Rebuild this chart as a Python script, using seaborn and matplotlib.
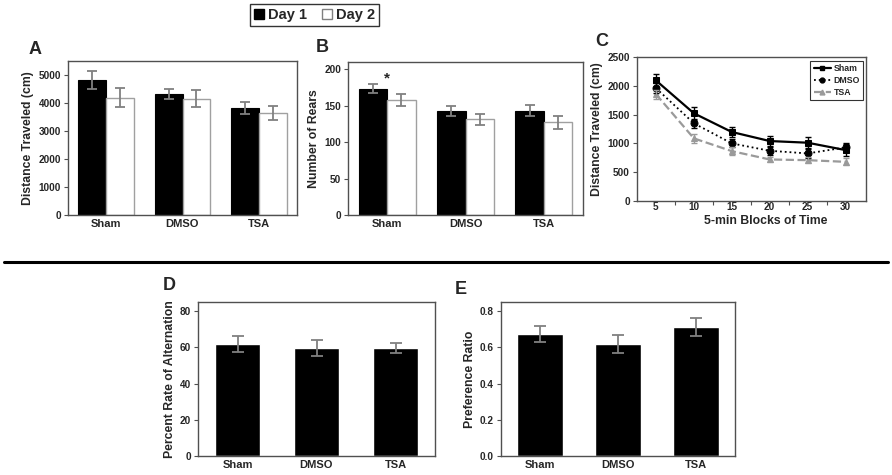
import numpy as np
import pandas as pd
import matplotlib
matplotlib.use("Agg")
import matplotlib.pyplot as plt
import seaborn as sns
from matplotlib.patches import Patch
from matplotlib.lines import Line2D
from matplotlib.ticker import FixedLocator, FormatStrFormatter

sns.set_theme(style="white")
plt.rcParams['font.family'] = ['Liberation Sans', 'DejaVu Sans']
plt.rcParams['font.weight'] = 'bold'
plt.rcParams['axes.labelweight'] = 'bold'

# ---------------- data ----------------
groups = ["Sham", "DMSO", "TSA"]
days = ["Day 1", "Day 2"]

dist_day1 = [4820, 4330, 3820]
dist_day1_err = [310, 170, 230]
dist_day2 = [4190, 4160, 3630]
dist_day2_err = [350, 300, 250]

rears_day1 = [173.5, 142.5, 143.4]
rears_day1_err = [6.5, 6.5, 7.0]
rears_day2 = [158.0, 131.5, 127.5]
rears_day2_err = [8.0, 7.5, 9.0]

time_blocks = [5, 10, 15, 20, 25, 30]
sham_time = [2093, 1523, 1198, 1041, 1012, 884]
sham_time_err = [115, 115, 95, 85, 95, 110]
dmso_time = [1959, 1349, 1000, 872, 826, 930]
dmso_time_err = [90, 80, 70, 70, 80, 80]
tsa_time = [1855, 1087, 866, 721, 709, 680]
tsa_time_err = [80, 75, 70, 50, 50, 60]

alternation = [61.9, 59.5, 59.6]
alternation_err = [4.4, 4.4, 3.0]

pref_ratio = [0.671, 0.618, 0.714]
pref_ratio_err = [0.044, 0.048, 0.050]

# ---------------- layout helpers ----------------
W, H = 892, 475
fig = plt.figure(figsize=(W / 100, H / 100), dpi=100)
fig.patch.set_facecolor("white")

def add_ax(x0, y0, x1, y1):
    return fig.add_axes([x0 / W, 1 - y1 / H, (x1 - x0) / W, (y1 - y0) / H])

def fig_text(x, y, s, **kw):
    fig.text(x / W, 1 - y / H, s, **kw)

SPINE = "#505050"
ERR = "#808080"
OPEN_EDGE = "#a0a0a0"

def style_ax(ax):
    for sp in ax.spines.values():
        sp.set_visible(True)
        sp.set_color(SPINE)
        sp.set_linewidth(1.0)
    ax.tick_params(axis='y', which='major', direction='out', length=3, width=0.8,
                   color=SPINE, labelsize=7.2, pad=2, left=True)
    ax.tick_params(axis='x', which='major', length=0, labelsize=8, pad=3)
    for t in ax.get_xticklabels() + ax.get_yticklabels():
        t.set_fontweight('bold')
    ax.set_xlabel("")

def grouped_bars(ax, d1, e1, d2, e2):
    df = pd.DataFrame({
        "group": groups * 2,
        "day": [days[0]] * 3 + [days[1]] * 3,
        "value": list(d1) + list(d2),
    })
    sns.barplot(data=df, x="group", y="value", hue="day", order=groups,
                hue_order=days, palette=["black", "white"], width=0.73,
                errorbar=None, legend=False, ax=ax, saturation=1)
    errs = [e1, e2]
    vals = [d1, d2]
    bar_conts = list(ax.containers)[:2]
    for i, cont in enumerate(bar_conts):
        xs = [p.get_x() + p.get_width() / 2 for p in cont.patches]
        for p in cont.patches:
            if i == 0:
                p.set_edgecolor("black")
                p.set_linewidth(0.8)
            else:
                p.set_edgecolor(OPEN_EDGE)
                p.set_linewidth(1.0)
        ax.errorbar(xs, vals[i], yerr=errs[i], fmt="none", ecolor=ERR,
                    elinewidth=1.3, capsize=3.5, capthick=1.3, zorder=5)
    ax.set_xlim(-0.5, 2.5)

def single_bars(ax, vals, errs):
    df = pd.DataFrame({"group": groups, "value": vals})
    sns.barplot(data=df, x="group", y="value", order=groups, color="black",
                width=0.58, errorbar=None, ax=ax, saturation=1)
    xs = [p.get_x() + p.get_width() / 2 for p in ax.patches]
    ax.errorbar(xs, vals, yerr=errs, fmt="none", ecolor=ERR, elinewidth=1.3,
                capsize=4, capthick=1.3, zorder=5)
    ax.set_xlim(-0.5, 2.5)

# ---------------- Panel A ----------------
axA = add_ax(68, 61, 297, 215)
grouped_bars(axA, dist_day1, dist_day1_err, dist_day2, dist_day2_err)
axA.set_ylim(0, 5500)
axA.set_yticks([0, 1000, 2000, 3000, 4000, 5000])
axA.set_ylabel("Distance Traveled (cm)", fontsize=8.8, labelpad=3)
style_ax(axA)

# ---------------- Panel B ----------------
axB = add_ax(348, 62, 583, 215)
grouped_bars(axB, rears_day1, rears_day1_err, rears_day2, rears_day2_err)
axB.set_ylim(0, 210)
axB.set_yticks([0, 50, 100, 150, 200])
axB.set_ylabel("Number of Rears", fontsize=8.8, labelpad=3)
axB.text(0, 188, "*", ha="center", va="center", fontsize=11, fontweight="bold")
style_ax(axB)

# ---------------- Panel C ----------------
axC = add_ax(637, 57, 866, 201)
series = [
    ("Sham", sham_time, sham_time_err, "black", "-", "s", 1.6),
    ("DMSO", dmso_time, dmso_time_err, "black", ":", "o", 1.3),
    ("TSA", tsa_time, tsa_time_err, "#9a9a9a", "--", "^", 1.6),
]
handles = []
for name, vals, errs, col, ls, mk, lw in series:
    sns.lineplot(x=time_blocks, y=vals, ax=axC, color=col, linestyle=ls,
                 linewidth=lw, marker=mk, markersize=5, markeredgecolor=col,
                 errorbar=None)
    axC.errorbar(time_blocks, vals, yerr=errs, fmt="none", ecolor=col,
                 elinewidth=1.0, capsize=2, capthick=1.0, zorder=4)
    handles.append(Line2D([0], [0], color=col, linestyle=ls, linewidth=lw,
                          marker=mk, markersize=3.5, markeredgecolor=col))
axC.set_xlim(2.5, 32.7)
axC.set_ylim(0, 2500)
axC.set_xticks(time_blocks)
axC.xaxis.set_minor_locator(FixedLocator([7.5, 12.5, 17.5, 22.5, 27.5]))
axC.tick_params(axis='x', which='minor', direction='out', length=3, width=0.8,
                color=SPINE, bottom=True)
axC.set_yticks([0, 500, 1000, 1500, 2000, 2500])
axC.set_ylabel("Distance Traveled (cm)", fontsize=8.8, labelpad=3)
style_ax(axC)
axC.tick_params(axis='x', which='major', labelsize=7.2, pad=1)
axC.set_xlabel("5-min Blocks of Time", fontsize=8.8, fontweight="bold")
axC.xaxis.set_label_coords(0.563, -0.095)
legC = axC.legend(handles, ["Sham", "DMSO", "TSA"], loc="upper right",
                  bbox_to_anchor=(0.995, 0.985), fontsize=6.3, frameon=True,
                  fancybox=False, edgecolor="black", handlelength=2.0,
                  handletextpad=0.3, borderpad=0.35, labelspacing=0.35,
                  borderaxespad=0.2)
legC.get_frame().set_linewidth(0.8)
for t in legC.get_texts():
    t.set_fontweight("bold")

# ---------------- Panel D ----------------
axD = add_ax(198, 302, 435, 456)
single_bars(axD, alternation, alternation_err)
axD.set_ylim(0, 85)
axD.set_yticks([0, 20, 40, 60, 80])
axD.set_ylabel("Percent Rate of Alternation", fontsize=8.8, labelpad=3)
style_ax(axD)

# ---------------- Panel E ----------------
axE = add_ax(501, 302, 735, 456)
single_bars(axE, pref_ratio, pref_ratio_err)
axE.set_ylim(0, 0.85)
axE.set_yticks([0.0, 0.2, 0.4, 0.6, 0.8])
axE.yaxis.set_major_formatter(FormatStrFormatter("%.1f"))
axE.set_ylabel("Preference Ratio", fontsize=8.8, labelpad=3)
style_ax(axE)

# ---------------- panel letters ----------------
for letter, x, y in [("A", 35, 49), ("B", 322, 47), ("C", 602, 42),
                     ("D", 169, 285), ("E", 461, 290)]:
    fig_text(x, y, letter, ha="center", va="center", fontsize=13,
             fontweight="bold")

# ---------------- top legend ----------------
leg = fig.legend(handles=[Patch(facecolor="black", edgecolor="black"),
                          Patch(facecolor="white", edgecolor="#808080")],
                 labels=days, loc="center", ncol=2,
                 bbox_to_anchor=(314.5 / W, 1 - 15 / H), fontsize=10.5,
                 frameon=True, fancybox=False, edgecolor="black",
                 handlelength=0.7, handleheight=0.7, handletextpad=0.3,
                 columnspacing=1.0, borderpad=0.25)
leg.get_frame().set_linewidth(1.0)
for t in leg.get_texts():
    t.set_fontweight("bold")

# ---------------- separator line ----------------
fig.add_artist(Line2D([4 / W, 888 / W], [1 - 262 / H, 1 - 262 / H],
                      color="black", linewidth=2.2))

fig.savefig("out.png", dpi=100, facecolor="white")
